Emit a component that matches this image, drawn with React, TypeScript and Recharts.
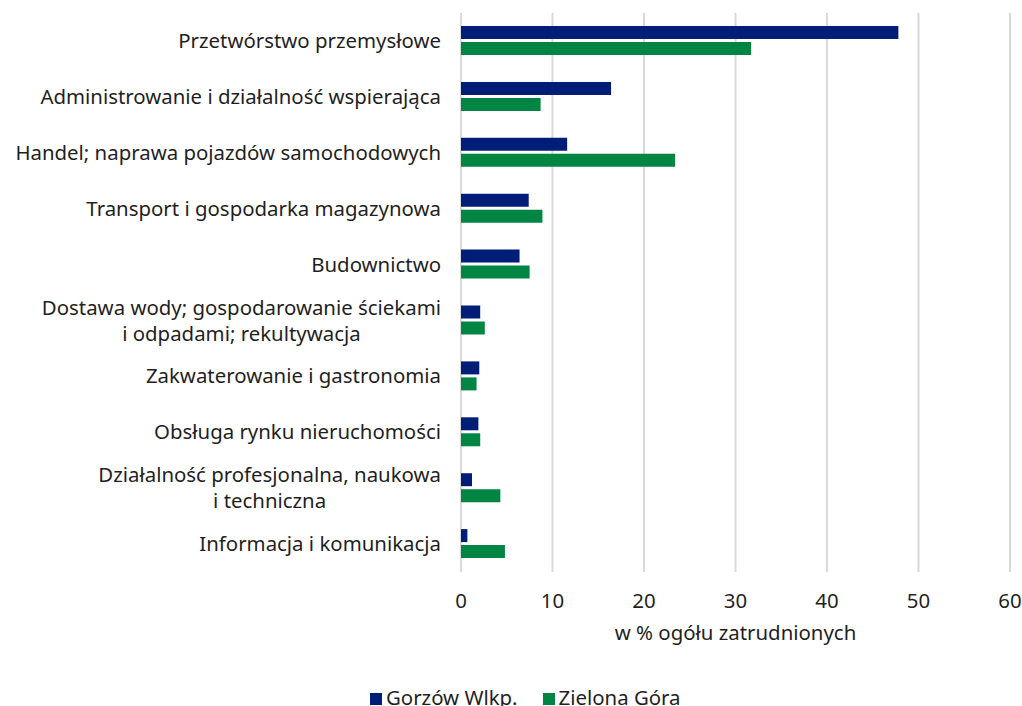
import React from 'react';
import { BarChart, Bar, XAxis, YAxis, CartesianGrid, Legend } from 'recharts';

const categories = [
  'Przetwórstwo przemysłowe',
  'Administrowanie i działalność wspierająca',
  'Handel; naprawa pojazdów samochodowych',
  'Transport i gospodarka magazynowa',
  'Budownictwo',
  'Dostawa wody; gospodarowanie ściekami\ni odpadami; rekultywacja',
  'Zakwaterowanie i gastronomia',
  'Obsługa rynku nieruchomości',
  'Działalność profesjonalna, naukowa\ni techniczna',
  'Informacja i komunikacja',
];
const gorzow = [47.8, 16.4, 11.6, 7.4, 6.4, 2.1, 2.0, 1.9, 1.2, 0.7];
const zielona = [31.7, 8.7, 23.4, 8.9, 7.5, 2.6, 1.7, 2.1, 4.3, 4.8];
const xTicks = [0, 10, 20, 30, 40, 50, 60];

const data = categories.map((name, i) => ({ name, gorzow: gorzow[i], zielona: zielona[i] }));

const FAMILY = 'Noto Sans';
const FONT = '"Noto Sans", sans-serif';
const FS = 20.4;
const TEXT = '#1f1f1f';
const NAVY = '#001d77';
const GREEN = '#008542';

let ctx: CanvasRenderingContext2D | null = null;
function measure(t: string) {
  if (!ctx) ctx = document.createElement('canvas').getContext('2d');
  if (!ctx) return t.length * 10;
  ctx.font = `${FS}px "${FAMILY}"`;
  return ctx.measureText(t).width;
}

// multi-line category label, lines centred on each other, block right-aligned
function CatTick(props: any) {
  const { x, y, payload } = props;
  const lines: string[] = String(payload.value).split('\n');
  const w = Math.max(...lines.map(measure));
  const cx = x - w / 2;
  const lh = 26;
  const start = y - ((lines.length - 1) * lh) / 2;
  return (
    <g>
      {lines.map((l, i) => (
        <text key={i} x={cx} y={start + i * lh} dy="0.35em" textAnchor="middle" fontSize={FS} fontFamily={FONT} fill={TEXT}>
          {l}
        </text>
      ))}
    </g>
  );
}

function LegendBox() {
  const items = [
    { label: 'Gorzów Wlkp.', color: NAVY },
    { label: 'Zielona Góra', color: GREEN },
  ];
  return (
    <div style={{ display: 'flex', fontFamily: FONT, fontSize: FS, color: TEXT, lineHeight: '24px' }}>
      {items.map((it) => (
        <div key={it.label} style={{ display: 'flex', alignItems: 'center', marginRight: 25 }}>
          <span style={{ width: 12, height: 12, background: it.color, marginRight: 4, marginTop: 4, display: 'inline-block' }} />
          {it.label}
        </div>
      ))}
    </div>
  );
}

export default function App() {
  return (
    <div style={{ position: 'absolute', left: 0, top: 0, background: '#fff', width: 1022, height: 706, overflow: 'hidden' }}>
      <BarChart
        width={1022}
        height={706}
        data={data}
        layout="vertical"
        margin={{ top: 13, right: 12, left: 0, bottom: 0 }}
        barCategoryGap={13}
        barGap={3}
      >
        <CartesianGrid horizontal={false} stroke="#d9d9d9" strokeWidth={2} />
        <XAxis
          type="number"
          domain={[0, 60]}
          ticks={xTicks}
          axisLine={false}
          tickLine={false}
          tickSize={0}
          tickMargin={22}
          height={110}
          tick={{ fontSize: FS, fontFamily: FONT, fill: TEXT }}
          label={(p: any) => {
            const vb = p.viewBox;
            return (
              <text x={vb.x + vb.width / 2} y={vb.y + 68} textAnchor="middle" fontSize={FS} fontFamily={FONT} fill={TEXT}>
                w % ogółu zatrudnionych
              </text>
            );
          }}
        />
        <YAxis
          type="category"
          dataKey="name"
          width={461}
          axisLine={false}
          tickLine={false}
          tickSize={0}
          tickMargin={20}
          interval={0}
          tick={<CatTick />}
        />
        <Legend
          content={<LegendBox />}
          wrapperStyle={{ position: 'absolute', left: 370, top: 685, width: 'auto' }}
        />
        <Bar dataKey="gorzow" name="Gorzów Wlkp." fill={NAVY} barSize={13} isAnimationActive={false} />
        <Bar dataKey="zielona" name="Zielona Góra" fill={GREEN} barSize={13} isAnimationActive={false} />
      </BarChart>
    </div>
  );
}
